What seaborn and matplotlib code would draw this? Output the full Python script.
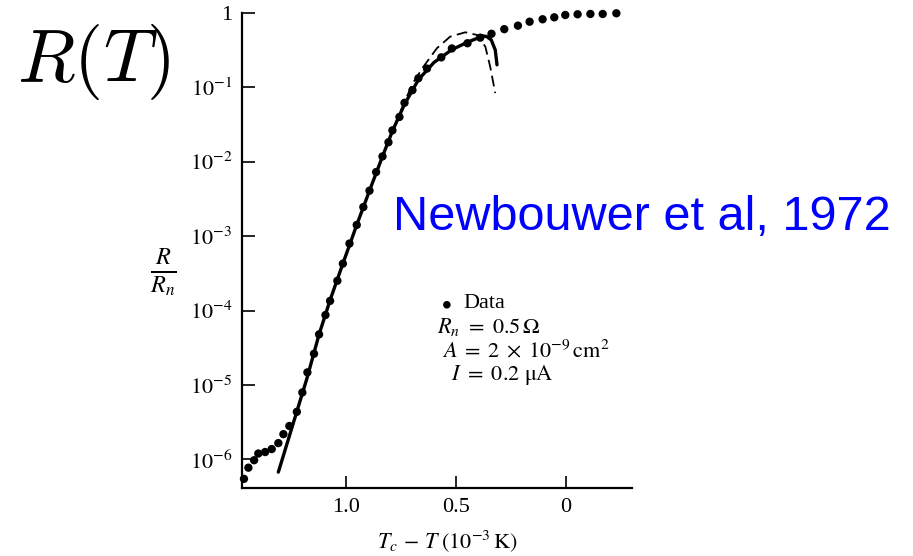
import numpy as np
import pandas as pd
import seaborn as sns
import matplotlib.pyplot as plt
from matplotlib.ticker import FixedLocator, NullLocator

# measured points, x = Tc - T (1e-3 K), y = log10(R/Rn)
data_x = [1.462, 1.442, 1.416, 1.397, 1.366, 1.336, 1.306, 1.283, 1.256, 1.222,
          1.197, 1.174, 1.144, 1.121, 1.092, 1.071, 1.038, 1.013, 0.983, 0.950,
          0.920, 0.892, 0.862, 0.833, 0.806, 0.788, 0.756, 0.733, 0.697, 0.670,
          0.631, 0.566, 0.518, 0.447, 0.389, 0.338, 0.280, 0.218, 0.165, 0.106,
          0.053, 0.003, -0.053, -0.111, -0.167, -0.229]
data_log = [-6.26, -6.11, -6.01, -5.92, -5.90, -5.86, -5.78, -5.66, -5.55, -5.36,
            -5.10, -4.83, -4.58, -4.32, -4.06, -3.87, -3.60, -3.37, -3.10, -2.85,
            -2.61, -2.39, -2.14, -1.93, -1.74, -1.58, -1.40, -1.21, -1.04, -0.88,
            -0.75, -0.60, -0.48, -0.41, -0.335, -0.283, -0.221, -0.174, -0.121, -0.088,
            -0.062, -0.031, -0.021, -0.017, -0.017, -0.008]

# solid fit curve
fit_x = [1.306, 1.177, 1.121, 1.071, 1.013, 0.950, 0.892, 0.833, 0.788, 0.733,
         0.670, 0.600, 0.520, 0.450, 0.400, 0.381, 0.360, 0.339, 0.321, 0.313]
fit_log = [-6.17, -4.92, -4.32, -3.86, -3.37, -2.85, -2.39, -1.93, -1.59, -1.23,
           -0.90, -0.67, -0.50, -0.40, -0.34, -0.31, -0.32, -0.366, -0.50, -0.70]

# dashed curve
dash_x = [0.833, 0.788, 0.735, 0.694, 0.648, 0.586, 0.526, 0.457, 0.404, 0.366, 0.344, 0.321]
dash_log = [-1.93, -1.59, -1.21, -0.94, -0.728, -0.477, -0.322, -0.263, -0.299, -0.456, -0.724, -1.080]

ytick_pos = [1, 1e-1, 1e-2, 1e-3, 1e-4, 1e-5, 1e-6]
ytick_lab = ['1', '$10^{-1}$', '$10^{-2}$', '$10^{-3}$', '$10^{-4}$', '$10^{-5}$', '$10^{-6}$']
xtick_pos = [1.0, 0.5, 0.0]
xtick_lab = ['1.0', '0.5', '0']

sns.set_style('white')
plt.rcParams['font.family'] = ['Liberation Serif', 'DejaVu Serif']
plt.rcParams['mathtext.fontset'] = 'stix'
plt.rcParams['text.color'] = 'black'
plt.rcParams['xtick.color'] = 'black'
plt.rcParams['ytick.color'] = 'black'

df = pd.DataFrame({'x': data_x, 'y': 10 ** np.array(data_log)})
fit = pd.DataFrame({'x': fit_x, 'y': 10 ** np.array(fit_log)})
dsh = pd.DataFrame({'x': dash_x, 'y': 10 ** np.array(dash_log)})

fig = plt.figure(figsize=(9.13, 5.56), dpi=100)
ax = fig.add_axes([242 / 913, 1 - 488.3 / 556, 390 / 913, (488.3 - 12.7) / 556])

sns.lineplot(data=dsh, x='x', y='y', ax=ax, sort=False, color='black', lw=1.3,
             dashes=False, linestyle=(0, (6, 3)))
sns.lineplot(data=fit, x='x', y='y', ax=ax, sort=False, color='black', lw=2.4)
sns.scatterplot(data=df, x='x', y='y', ax=ax, color='black', s=36, edgecolor='none',
                clip_on=False, zorder=5)

ax.set_yscale('log')
ax.set_ylim(10 ** -6.387, 1)
ax.set_xlim(1.471, -0.30)
ax.yaxis.set_major_locator(FixedLocator(ytick_pos))
ax.yaxis.set_minor_locator(NullLocator())
ax.set_yticklabels(ytick_lab)
ax.set_xticks(xtick_pos)
ax.set_xticklabels(xtick_lab)
ax.tick_params(direction='in', length=9, width=1.2, labelsize=16, pad=7,
               color='black', labelcolor='black', bottom=True, left=True)
ax.set_xlabel('')
ax.set_ylabel('')
for s in ['top', 'right']:
    ax.spines[s].set_visible(False)
for s in ['left', 'bottom']:
    ax.spines[s].set_linewidth(1.6)
    ax.spines[s].set_color('black')

# labels
fig.text(163 / 913, 1 - 272 / 556, r'$\frac{R}{R_n}$', fontsize=25, ha='center', va='center')
fig.text(447 / 913, 1 - 541 / 556, r'$T_c\,-\,T\;(10^{-3}\,\mathrm{K})$', fontsize=16,
         ha='center', va='center')

# annotation block
fig.text(441 / 913, 1 - 304 / 556, r'$\bullet$', fontsize=20, ha='left', va='center')
fig.text(463 / 913, 1 - 303 / 556, 'Data', fontsize=16, ha='left', va='center')
fig.text(437 / 913, 1 - 327 / 556, r'$R_n\ =\ 0.5\,\Omega$', fontsize=16, ha='left', va='center')
fig.text(442 / 913, 1 - 351 / 556, r'$A\;=\;2\;\times\;10^{-9}\,\mathrm{cm}^2$', fontsize=16,
         ha='left', va='center')
fig.text(451 / 913, 1 - 375 / 556, r'$I\ =\ 0.2\ \mathrm{\mu A}$', fontsize=16, ha='left', va='center')

# title-ish texts
fig.text(94 / 913, 1 - 62 / 556, r'$R(T)$', fontsize=54, ha='center', va='center',
         math_fontfamily='cm')
fig.text(642 / 913, 1 - 218 / 556, 'Newbouwer et al, 1972', fontsize=35, color='#0000ff',
         ha='center', va='center', family=['Liberation Sans', 'DejaVu Sans'])

fig.savefig('out.png', dpi=100)
